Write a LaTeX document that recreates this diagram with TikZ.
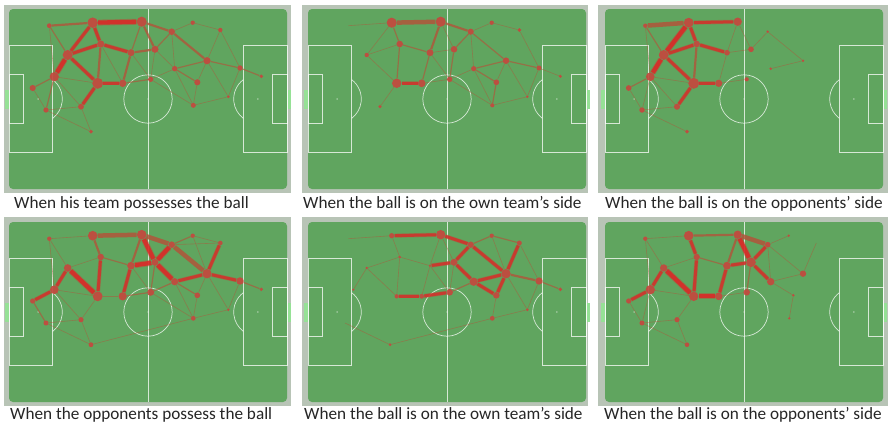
\documentclass[tikz,border=0pt]{standalone}
\usepackage{fontspec}
\setmainfont{Carlito}
\pgfdeclarelayer{fieldlayer}
\pgfdeclarelayer{edgelayer}
\pgfsetlayers{fieldlayer,edgelayer,main}
\definecolor{fieldgreen}{RGB}{96,165,95}
\definecolor{framegrey}{RGB}{184,196,182}
\definecolor{goalgreen}{RGB}{150,225,150}
\definecolor{nodered}{RGB}{196,72,62}
\definecolor{edgebrown}{RGB}{178,84,58}
\definecolor{edgered}{RGB}{222,38,38}
\tikzset{
 pline/.style={draw=white, draw opacity=0.75, line width=0.7pt},
 pnode/.style={circle, fill=nodered, fill opacity=0.92, inner sep=0pt, draw=none},
 ea/.style={draw=edgebrown, draw opacity=0.5, line width=0.6pt},
 eb/.style={draw=edgebrown, draw opacity=0.65, line width=1.2pt},
 ec/.style={draw=edgebrown, draw opacity=0.8, line width=2.2pt},
 ed/.style={draw=edgered!80!edgebrown, draw opacity=0.85, line width=3pt,
   preaction={draw=edgebrown, draw opacity=0.45, line width=4.2pt}},
 ee/.style={draw=edgered, draw opacity=0.85, line width=4.3pt,
   preaction={draw=edgebrown, draw opacity=0.5, line width=6pt}},
 ef/.style={draw=edgebrown, draw opacity=0.85, line width=4.5pt},
 captext/.style={anchor=base west, inner sep=0pt, text=black!85, font=\fontsize{17.2}{19}\selectfont},
}
\def\poslist{A/40.3/16.7, B/83.7/13.7, C/132.7/12.7, D/162.7/22.7, E/183.7/13.7,
 F/211.3/21, G/91.7/35, H/122/43.7, I/146/40.3, J/58.7/46, K/198/51.7,
 L/165.7/59.7, M/231/59, N/252.3/67.3, O/45.3/67.7, P/88.7/74.3, Q/113.7/74.3,
 R/141.7/70.3, S/188.3/73.3, T/23.7/79, U/219.3/87.7, V/184.3/96.3,
 W/37/101, X/72/97.7, Y/82/122.7}
\newcommand\pitchfield{%
 \begin{pgfonlayer}{fieldlayer}
  \fill[fieldgreen, rounded corners=4pt] (0,0) rectangle (278,180);
  \fill[goalgreen] (-3.6,80.5) rectangle (0,99.5);
  \fill[goalgreen] (278,80.5) rectangle (281.6,99.5);
  \draw[pline] (139,0) -- (139,180);
  \draw[pline] (139,90) circle[radius=24.2];
  \fill[white, opacity=0.7] (139,90) circle[radius=0.7];
  \draw[pline] (0,36.6) rectangle (43.7,143.4);
  \draw[pline] (0,65.8) rectangle (14.6,114.2);
  \draw[pline] (278,36.6) rectangle (234.3,143.4);
  \draw[pline] (278,65.8) rectangle (263.4,114.2);
  \draw[pline] (43.7,70.7) arc[start angle=-52.9, end angle=52.9, radius=24.2];
  \draw[pline] (234.3,70.7) arc[start angle=232.9, end angle=127.1, radius=24.2];
  \fill[white, opacity=0.7] (29.1,90) circle[radius=0.7];
  \fill[white, opacity=0.7] (248.9,90) circle[radius=0.7];
 \end{pgfonlayer}}
\newcommand\mkcoords[1]{\foreach \n/\x/\y in \poslist {\coordinate (c#1\n) at (\x,\y);}}
\begin{document}
\begin{tikzpicture}[x=1pt, y=-1pt]
\useasboundingbox (0,0) rectangle (890,426);
\begin{pgfonlayer}{fieldlayer}
 \fill[white] (0,0) rectangle (890,426);
 \fill[framegrey] (4,5) rectangle (291,193);
 \fill[framegrey] (302,5) rectangle (588,193);
 \fill[framegrey] (598,5) rectangle (888,193);
 \fill[framegrey] (4,217) rectangle (291,406);
 \fill[framegrey] (302,217) rectangle (588,406);
 \fill[framegrey] (598,217) rectangle (888,406);
\end{pgfonlayer}

% ---------- panel 1 ----------
\begin{scope}[shift={(9,9)}]
 \pitchfield \mkcoords{1}
 \foreach \n/\r in {A/2.2, B/4.8, C/4.6, D/3, E/2, F/2, G/3.3, H/3.2, I/3.2, J/4.6,
  K/3.3, L/2.5, M/2.5, N/1.8, O/4.3, P/5, Q/3.4, R/2.4, S/2.8, T/2.8, U/1.4,
  V/2.3, W/2.4, X/2.7, Y/1.8}
  {\node[pnode, minimum size={2.2*\r pt}] (n1\n) at (c1\n) {};}
 \begin{pgfonlayer}{edgelayer}
 \foreach \a/\b/\s in {A/B/ec, B/C/ee, C/D/ec, D/E/ea, E/F/ea, A/O/ea, A/J/eb,
  B/J/ed, B/G/ed, G/P/ec, G/H/ed, J/G/ed, C/H/eb, C/I/ec, H/I/ec, I/D/eb,
  J/O/ee, J/P/ed, O/P/ea, P/Q/ed, Q/R/eb, O/T/eb, T/W/ea, O/W/eb, W/X/ea,
  P/X/ed, O/X/ea, W/Y/ea, X/Y/ea, H/Q/ec, H/R/ea, I/R/ea, R/L/ea, L/K/eb,
  D/K/ec, F/K/ea, D/L/ea, K/M/eb, M/N/eb, K/S/ea, L/S/eb, L/V/ea, S/V/ea,
  K/U/ea, F/M/ea, R/V/ea, V/U/ea, M/U/ea, I/L/ea, G/Q/ea}
  {\draw[\s] (n1\a) -- (n1\b);}
 \end{pgfonlayer}
\end{scope}

% ---------- panel 2 ----------
\begin{scope}[shift={(308,9)}]
 \pitchfield \mkcoords{2}
 \foreach \n/\r in {B/4.6, C/4.6, D/2.8, E/2, F/1.8, G/3, H/3.2, I/3, J/2, K/3,
  L/2.4, M/2.3, N/1.5, P/4.3, Q/3.5, R/2.5, S/2.6, U/1.3, V/1.9, X/1.6}
  {\node[pnode, minimum size={2.2*\r pt}] (n2\n) at (c2\n) {};}
 \begin{pgfonlayer}{edgelayer}
 \draw[ea] (c2A) -- (n2B);
 \foreach \a/\b/\s in {B/C/ef, C/D/ec, D/E/ea, E/F/ea, B/G/eb, B/J/ea, C/H/ec,
  C/I/ea, G/H/eb, G/P/eb, J/G/ea, J/P/ea, P/Q/ed, H/Q/eb, H/I/ea, I/D/eb,
  I/R/eb, Q/R/ea, R/L/ea, D/K/eb, L/K/eb, K/M/eb, M/N/ea, K/S/ea, L/S/eb,
  S/V/eb, L/V/ea, R/V/ea, F/M/ea, K/U/ea, U/V/ea, M/U/ea, P/X/ea, D/L/ea, H/R/ea}
  {\draw[\s] (n2\a) -- (n2\b);}
 \end{pgfonlayer}
\end{scope}

% ---------- panel 3 ----------
\begin{scope}[shift={(605,9)}]
 \pitchfield \mkcoords{3}
 \foreach \n/\r in {A/2, B/4.5, C/3.8, D/1.3, G/3, H/2.6, I/2.6, J/4.5, K/1.3,
  L/1.3, O/4, P/5, Q/3.3, R/1.9, T/2.6, W/2.5, X/2.8, Y/1.8}
  {\node[pnode, minimum size={2.2*\r pt}] (n3\n) at (c3\n) {};}
 \begin{pgfonlayer}{edgelayer}
 \foreach \a/\b/\s in {A/B/ef, B/C/ed, C/H/ea, C/I/ea, B/G/ed, B/J/ee, A/J/eb,
  A/O/ea, G/J/ed, G/H/ed, G/P/ec, H/I/ea, I/D/ea, D/K/ea, K/L/ea, J/O/ee,
  J/P/ed, P/Q/ed, Q/R/ea, O/P/ea, O/T/eb, T/W/ea, O/W/ea, W/X/ea, P/X/ed,
  W/Y/ea, O/X/ea, H/Q/ea}
  {\draw[\s] (n3\a) -- (n3\b);}
 \end{pgfonlayer}
\end{scope}

% ---------- panel 4 ----------
\begin{scope}[shift={(9,222)}]
 \pitchfield \mkcoords{4}
 \foreach \n/\r in {A/2, B/4.4, C/4.4, D/3, E/2, F/2.1, G/3, H/3.5, I/3.2, J/3.5,
  K/4.3, L/3.3, M/3.4, N/1.6, O/4, P/4.5, Q/3.8, R/3.2, S/2.6, T/2.4, U/1.3,
  V/2.2, W/2.3, X/2.4, Y/2.2}
  {\node[pnode, minimum size={2.2*\r pt}] (n4\n) at (c4\n) {};}
 \begin{pgfonlayer}{edgelayer}
 \foreach \a/\b/\s in {A/B/ea, A/O/ea, A/J/ea, B/C/ef, B/G/ec, G/H/eb, J/G/ea,
  J/O/ed, J/P/ee, G/P/ed, O/P/ea, O/T/ed, T/W/eb, W/X/ea, O/X/ea, X/P/ea,
  W/Y/ea, Y/V/ea, X/Y/ea, P/Q/ea, Q/R/eb, H/Q/ed, C/H/ec, C/I/ee, C/D/ef,
  H/I/ee, I/D/ee, I/L/ee, I/R/eb, H/R/ea, D/E/eb, E/F/ea, D/K/ef, F/K/ed,
  E/K/ea, L/K/ed, K/M/ed, M/N/eb, K/S/ea, L/S/eb, S/V/ea, K/U/ea, U/V/ea,
  R/V/ea, L/V/ea, R/L/eb, F/D/ea, M/U/ea}
  {\draw[\s] (n4\a) -- (n4\b);}
 \end{pgfonlayer}
\end{scope}

% ---------- panel 5 ----------
\begin{scope}[shift={(308,222)}]
 \pitchfield \mkcoords{5}
 \foreach \n/\r in {B/2.4, C/4.3, D/2.9, E/2, F/2.3, G/1.4, H/1.3, I/3.2, J/1.3,
  K/4.3, L/3.8, M/3.3, N/1.8, O/1.1, P/2, Q/2.2, R/3, S/3, U/1.4, V/2.2, Y/1.4}
  {\node[pnode, minimum size={2.2*\r pt}] (n5\n) at (c5\n) {};}
 \begin{pgfonlayer}{edgelayer}
 \draw[ea] (c5A) -- (n5B);
 \draw[ea] (c5W) -- (n5Y);
 \foreach \a/\b/\s in {B/C/ed, C/D/ed, D/E/eb, E/F/eb, D/K/ed, F/K/ed, E/K/ea,
  D/I/ed, I/H/ed, I/L/ed, L/K/ed, K/M/ec, M/N/eb, L/S/ed, K/S/ed, S/V/ea,
  V/U/ea, K/U/ea, C/H/ea, C/I/ea, B/G/ea, G/H/ea, G/P/ea, J/G/ea, J/O/ea,
  J/P/ea, H/Q/ea, P/Q/ed, Q/R/ed, R/L/eb, H/R/ea, I/R/ea, Y/V/ea, F/M/ea, U/M/ea}
  {\draw[\s] (n5\a) -- (n5\b);}
 \end{pgfonlayer}
\end{scope}

% ---------- panel 6 ----------
\begin{scope}[shift={(605,222)}]
 \pitchfield \mkcoords{6}
 \foreach \n/\r in {A/2, B/4.4, C/3.8, D/2.6, E/1.2, G/2.9, H/3.6, I/4.4, J/3.4,
  K/2.9, L/3.4, O/4.3, P/4.3, Q/3.5, R/3, S/1.3, T/2.4, V/1.2, W/2.3, X/2.4, Y/2.1}
  {\node[pnode, minimum size={2.2*\r pt}] (n6\n) at (c6\n) {};}
 \begin{pgfonlayer}{edgelayer}
 \draw[ea] (c6F) -- (n6K);
 \foreach \a/\b/\s in {A/B/ea, A/J/ea, A/O/ea, B/C/ec, B/G/ed, G/H/eb, G/P/ed,
  J/G/ea, J/O/ed, J/P/ee, O/T/ed, T/W/ea, O/W/ea, W/X/ea, X/P/ea, W/Y/ea,
  X/Y/ea, P/Q/ee, Q/H/ed, Q/R/ea, H/I/ed, C/H/ec, C/I/ee, C/D/ef, D/I/ed,
  I/L/ed, I/R/eb, D/E/ea, L/S/ea, S/V/ea, L/K/ea, D/K/ea, D/L/ea, O/P/ea}
  {\draw[\s] (n6\a) -- (n6\b);}
 \end{pgfonlayer}
\end{scope}

% ---------- captions ----------
\node[captext] (cap1) at (14,208) {When his team possesses the ball};
\node[captext] (cap2) at (303,208) {When the ball is on the own team’s side};
\node[captext] (cap3) at (605,208) {When the ball is on the opponents’ side};
\node[captext] (cap4) at (10,419) {When the opponents possess the ball};
\node[captext] (cap5) at (304,419) {When the ball is on the own team’s side};
\node[captext] (cap6) at (604,419) {When the ball is on the opponents’ side};
\end{tikzpicture}
\end{document}
